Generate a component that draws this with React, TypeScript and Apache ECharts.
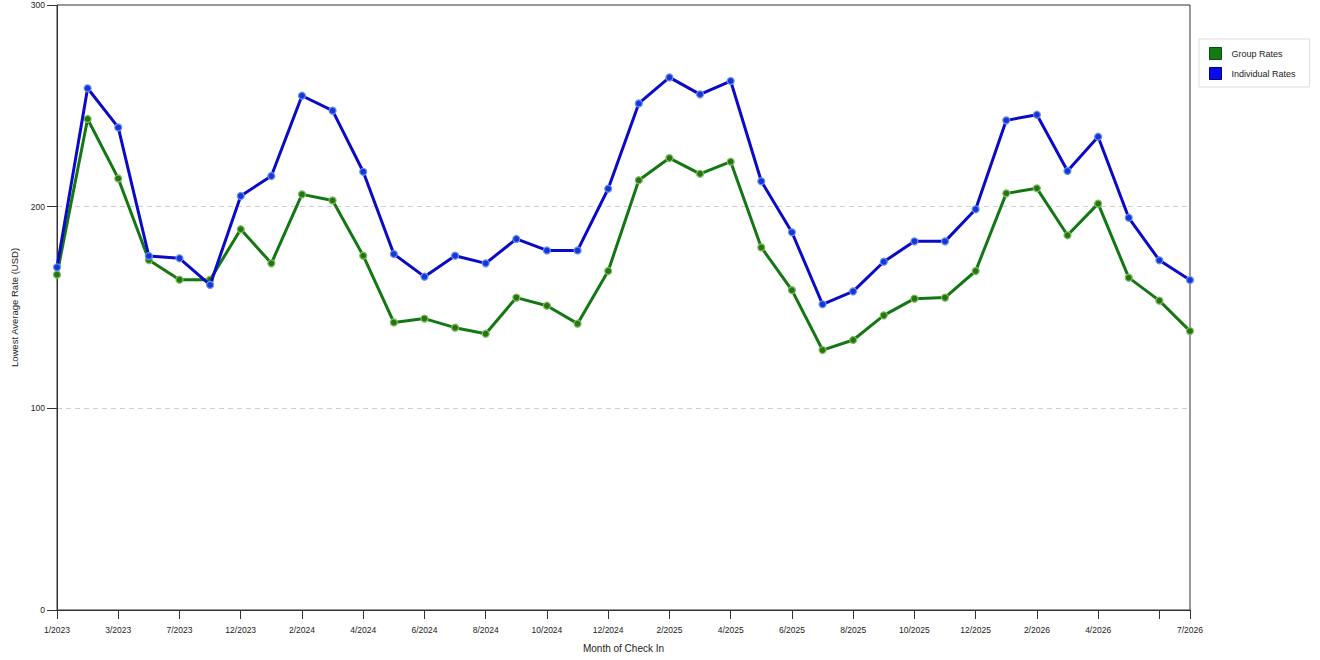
import React, { useEffect, useRef } from "react";
import * as echarts from "echarts";

const categories = [
  "1/2023", "2/2023", "3/2023", "5/2023", "7/2023", "9/2023", "12/2023",
  "1/2024", "2/2024", "3/2024", "4/2024", "5/2024", "6/2024", "7/2024", "8/2024", "9/2024", "10/2024", "11/2024", "12/2024",
  "1/2025", "2/2025", "3/2025", "4/2025", "5/2025", "6/2025", "7/2025", "8/2025", "9/2025", "10/2025", "11/2025", "12/2025",
  "1/2026", "2/2026", "3/2026", "4/2026", "5/2026", "6/2026", "7/2026",
];

const groupRates = [
  166.3, 243.5, 214, 173.5, 163.8, 163.8, 188.8, 171.9, 206.1, 203.1, 175.7,
  142.6, 144.5, 140, 137, 154.9, 150.9, 142, 168.1, 213.1, 224.1, 216.3, 222.3,
  179.8, 158.6, 128.9, 133.9, 146.1, 154.4, 154.9, 168.1, 206.6, 209.1, 185.8,
  201.5, 164.8, 153.4, 138.3,
];

const individualRates = [
  169.9, 258.7, 239.3, 175.5, 174.4, 161.2, 205.3, 215.2, 255, 247.6, 217.3,
  176.5, 165.3, 175.7, 171.9, 184, 178.3, 178.3, 208.9, 251.2, 264.1, 255.7, 262.3,
  212.6, 187.3, 151.6, 158, 172.7, 182.8, 182.8, 198.7, 242.8, 245.6, 217.7,
  234.7, 194.5, 173.4, 163.6,
];

const seriesNames = ["Group Rates", "Individual Rates"];

const FONT = "'Liberation Sans', Arial, sans-serif";

export default function App() {
  const ref = useRef<HTMLDivElement>(null);
  useEffect(() => {
    if (!ref.current) return;
    const chart = echarts.init(ref.current, null, { renderer: "svg" });
    const last = categories.length - 1;
    const tickShown = (i: number) => i % 2 === 0 || i === last;
    const labelShown = (i: number) => (i % 2 === 0 && i !== last - 1) || i === last;
    chart.setOption({
      animation: false,
      backgroundColor: "#ffffff",
      textStyle: { fontFamily: FONT },
      grid: {
        left: 57,
        right: 130,
        top: 5,
        bottom: 50,
        show: true,
        borderColor: "#333",
        borderWidth: 1,
        backgroundColor: "transparent",
      },
      legend: {
        orient: "vertical",
        left: 1199,
        top: 39,
        padding: [8, 14, 7, 10],
        itemGap: 7,
        itemWidth: 12,
        itemHeight: 12,
        borderColor: "#dddddd",
        borderWidth: 1,
        backgroundColor: "#fff",
        textStyle: { fontSize: 9, color: "#222", fontFamily: FONT, padding: [0, 0, 0, 5] },
        data: [
          { name: seriesNames[0], icon: "rect", itemStyle: { color: "#127a12", borderColor: "#0a4a0a", borderWidth: 1 } },
          { name: seriesNames[1], icon: "rect", itemStyle: { color: "#0a0aee", borderColor: "#00006a", borderWidth: 1 } },
        ],
      },
      xAxis: {
        type: "category",
        boundaryGap: false,
        data: categories,
        name: "Month of Check In",
        nameLocation: "middle",
        nameGap: 33,
        nameTextStyle: { fontSize: 10, color: "#222", fontFamily: FONT },
        axisLine: { lineStyle: { color: "#333", width: 1 } },
        axisTick: { show: true, length: 9, interval: (i: number) => tickShown(i), lineStyle: { color: "#333" } },
        axisLabel: {
          interval: (i: number) => labelShown(i),
          fontSize: 8.5,
          color: "#222",
          margin: 15,
          fontFamily: FONT,
        },
        splitLine: { show: false },
      },
      yAxis: {
        type: "value",
        min: 0,
        max: 300,
        interval: 100,
        name: "Lowest Average Rate (USD)",
        nameLocation: "middle",
        nameRotate: 90,
        nameGap: 29,
        nameTextStyle: { fontSize: 9.5, color: "#222", fontFamily: FONT },
        axisLine: { show: true, lineStyle: { color: "#333", width: 1 } },
        axisTick: { show: true, length: 10, lineStyle: { color: "#333" } },
        axisLabel: { fontSize: 8.5, color: "#222", margin: 12, fontFamily: FONT },
        splitLine: {
          show: true,
          lineStyle: {
            color: ["rgba(0,0,0,0)", "#d0d0d0", "#d0d0d0", "rgba(0,0,0,0)"],
            type: [5, 4],
            width: 1,
          },
        },
      },
      series: [
        {
          name: seriesNames[0],
          type: "line",
          data: groupRates,
          symbol: "circle",
          symbolSize: 7,
          lineStyle: { color: "#137813", width: 3 },
          itemStyle: { color: "#2a7312", borderColor: "#7cc060", borderWidth: 1.2 },
          emphasis: { disabled: true },
          z: 2,
        },
        {
          name: seriesNames[1],
          type: "line",
          data: individualRates,
          symbol: "circle",
          symbolSize: 7,
          lineStyle: { color: "#0a0ac8", width: 3 },
          itemStyle: { color: "#1438d8", borderColor: "#6f90f0", borderWidth: 1.2 },
          emphasis: { disabled: true },
          z: 3,
        },
      ],
    });
    return () => chart.dispose();
  }, []);
  return (
    <div
      ref={ref}
      style={{ position: "fixed", left: 0, top: 0, width: 1320, height: 660, background: "#fff" }}
    />
  );
}
